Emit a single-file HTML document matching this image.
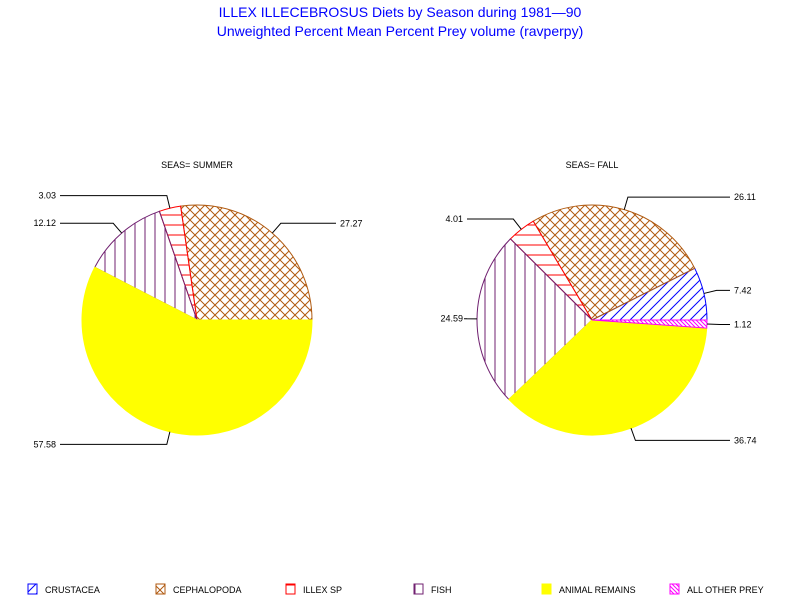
<!DOCTYPE html>
<html><head><meta charset="utf-8"><style>
html,body{margin:0;padding:0;background:#fff;}
svg{display:block;font-family:"Liberation Sans",sans-serif;}
</style></head><body>
<svg id="chart" width="800" height="600" xmlns="http://www.w3.org/2000/svg">
<defs>
<pattern id="p-crust" patternUnits="userSpaceOnUse" width="10" height="10"><path d="M-1,11 L11,-1 M-6,6 L6,-6 M4,16 L16,4" stroke="#0000ff" stroke-width="1"/></pattern>
<pattern id="p-ceph" patternUnits="userSpaceOnUse" width="10" height="10"><path d="M0,0 L10,10 M10,0 L0,10" stroke="#b05a10" stroke-width="1"/></pattern>
<pattern id="p-illex" patternUnits="userSpaceOnUse" width="10" height="10"><path d="M0,5 L10,5" stroke="#ff0000" stroke-width="1"/></pattern>
<pattern id="p-fish" patternUnits="userSpaceOnUse" width="10" height="10"><path d="M5,0 L5,10" stroke="#702070" stroke-width="1"/></pattern>
<pattern id="p-other" patternUnits="userSpaceOnUse" width="4" height="4"><path d="M0,0 L4,4 M-2,2 L2,6 M2,-2 L6,2" stroke="#ff00ff" stroke-width="1"/></pattern>
</defs>
<text x="400" y="17" text-anchor="middle" font-size="14" fill="#0000ff">ILLEX ILLECEBROSUS Diets by Season during 1981—90</text>
<text x="400" y="36" text-anchor="middle" font-size="14" fill="#0000ff">Unweighted Percent Mean Percent Prey  volume (ravperpy)</text>
<g id="pies"></g>
<g id="legend"></g>
</svg>
<script>
const categories = ["CRUSTACEA","CEPHALOPODA","ILLEX SP","FISH","ANIMAL REMAINS","ALL OTHER PREY"];
const seasons = ["SUMMER","FALL"];
const summerValues = [0, 27.27, 3.03, 12.12, 57.58, 0];
const fallValues = [7.42, 26.11, 4.01, 24.59, 36.74, 1.12];
const fills = ["url(#p-crust)","url(#p-ceph)","url(#p-illex)","url(#p-fish)","#ffff00","url(#p-other)"];
const strokes = ["#0000ff","#b05a10","#ff0000","#702070","#ffff00","#ff00ff"];
const NS = "http://www.w3.org/2000/svg";
const svg = document.getElementById("chart");
const pies = document.getElementById("pies");
function mk(tag, attrs, parent){const e=document.createElementNS(NS,tag);for(const k in attrs)e.setAttribute(k,attrs[k]);parent.appendChild(e);return e;}
function drawPie(values, cx, cy, r, season, labelRight, labelLeft){
  const g = mk("g",{},pies);
  
  
  const st = mk("text",{x:cx,y:cy-152,"text-anchor":"middle","font-size":"9",fill:"#000"},g);
  st.textContent = "SEAS= " + season;
  
  
  const total = values.reduce((a,b)=>a+b,0);
  let a0 = 0;
  values.forEach((v,i)=>{
    if(v<=0) return;
    const a1 = a0 + v/total*2*Math.PI;
    const x0=cx+r*Math.cos(a0), y0=cy-r*Math.sin(a0), x1=cx+r*Math.cos(a1), y1=cy-r*Math.sin(a1);
    const large = (a1-a0)>Math.PI?1:0;
    const p = mk("path",{d:`M${cx},${cy} L${x0},${y0} A${r},${r} 0 ${large} 0 ${x1},${y1} Z`,fill:fills[i],stroke:strokes[i],"stroke-width":"1"},g);
    
    
    const am = (a0+a1)/2;
    const ex=cx+r*Math.cos(am), ey=cy-r*Math.sin(am);
    const kx=cx+(r+13)*Math.cos(am), ky=cy-(r+13)*Math.sin(am);
    const right = Math.cos(am)>=0;
    const lx = right ? labelRight : labelLeft;
    const ln = mk("polyline",{points:`${ex},${ey} ${kx},${ky} ${lx+(right?-4:4)},${ky}`,fill:"none",stroke:"#000","stroke-width":"1"},g);
    
    
    const t = mk("text",{x:lx,y:ky+3,"text-anchor":right?"start":"end","font-size":"9",fill:"#000"},g);
    t.textContent = v.toFixed(2);
    
    
    a0 = a1;
  });
}
drawPie(summerValues, 197, 320, 115, seasons[0], 340, 56);
drawPie(fallValues, 592, 320, 115, seasons[1], 734, 463);
const lg = document.getElementById("legend");
const lx = [28,156,286,414,542,670];
categories.forEach((c,i)=>{
  const g = mk("g",{},lg);
  
  
  const b = mk("rect",{x:lx[i],y:584,width:9,height:10,fill:fills[i]==="#ffff00"?"#ffff00":"#fff",stroke:strokes[i],"stroke-width":"1"},g);
  
  
  if(fills[i]!=="#ffff00"){const b2=mk("rect",{x:lx[i],y:584,width:9,height:10,fill:fills[i]},g);}
  const t = mk("text",{x:lx[i]+17,y:593,"font-size":"9",fill:"#000"},g);
  t.textContent = c;
  
  
});
</script>
</body></html>
